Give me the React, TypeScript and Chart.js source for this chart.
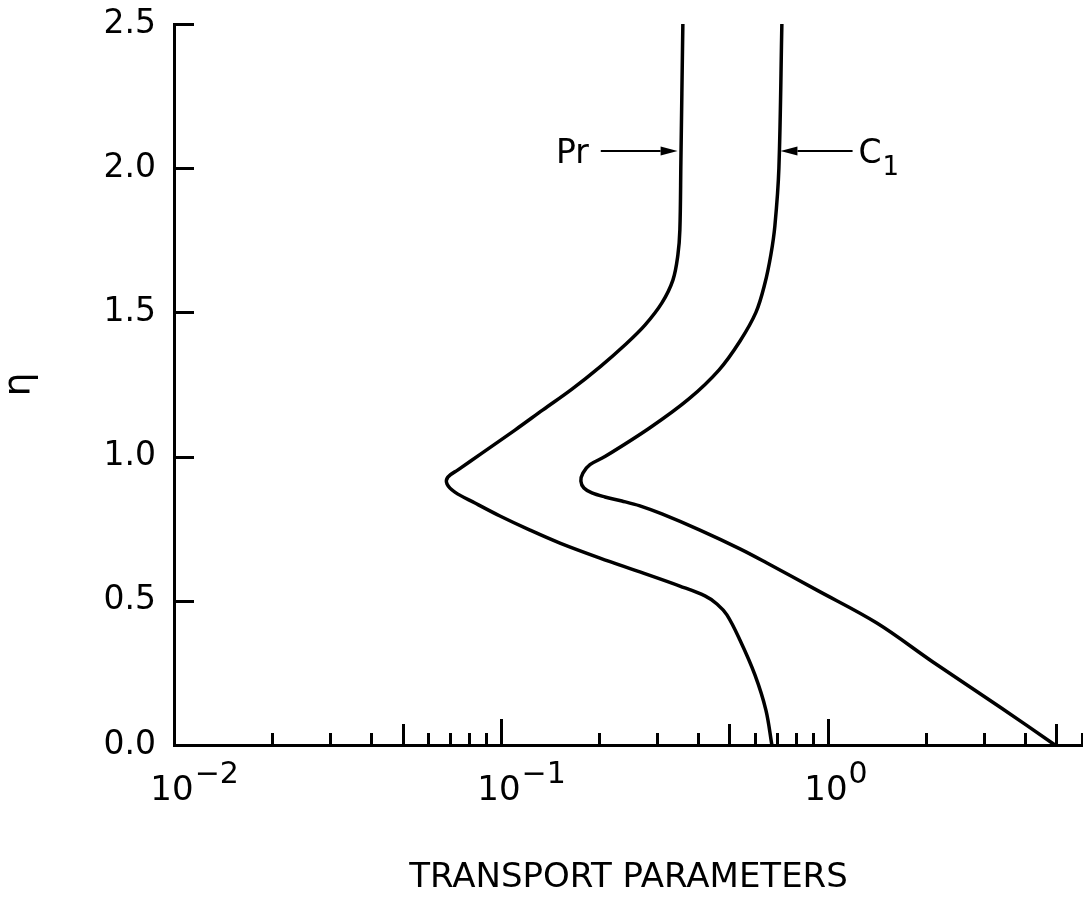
import React, { useEffect, useRef } from "react";
import { Chart, registerables } from "chart.js";

Chart.register(...registerables);

// ---- Data ----
// Prandtl number curve: eta (vertical) vs value (horizontal, log)
const prEta = [2.5, 2.018, 1.786, 1.699, 1.612, 1.533, 1.456, 1.387, 1.314, 1.234, 1.162, 1.092, 1.012, 0.954, 0.929, 0.905, 0.877, 0.839, 0.794, 0.745, 0.7, 0.648, 0.6, 0.551, 0.517, 0.489, 0.451, 0.364, 0.243, 0.121, 0];
const prValues = [0.3601, 0.3551, 0.3526, 0.3477, 0.3357, 0.3107, 0.2757, 0.2394, 0.2022, 0.1649, 0.1344, 0.1104, 0.0875, 0.0739, 0.0688, 0.0684, 0.0723, 0.0833, 0.0993, 0.1227, 0.1515, 0.2009, 0.2661, 0.3526, 0.4207, 0.4578, 0.4911, 0.5382, 0.5982, 0.6463, 0.6741];

// C1 curve
const c1Eta = [2.5, 2.0, 1.8, 1.7, 1.6, 1.5, 1.4, 1.3, 1.2, 1.1, 1.0, 0.972, 0.943, 0.915, 0.891, 0.874, 0.86, 0.846, 0.829, 0.801, 0.745, 0.68, 0.631, 0.537, 0.423, 0.288, 0.132, 0];
const c1Values = [0.7232, 0.7082, 0.6885, 0.6693, 0.6416, 0.6024, 0.5382, 0.4642, 0.3757, 0.2856, 0.208, 0.1872, 0.1781, 0.1756, 0.1794, 0.1898, 0.208, 0.2344, 0.2661, 0.3107, 0.4061, 0.5382, 0.651, 0.9256, 1.4116, 2.095, 3.3574, 4.95];

// Axis ticks
const yTickValues = [0, 0.5, 1.0, 1.5, 2.0, 2.5];
const xDecadeTicks = [0.01, 0.1, 1];
const xDecadeBase = ["10", "10", "10"];
const xDecadeExponents = ["\u22122", "\u22121", "0"];
const xMidTicks = [0.05, 0.5, 5];
const xMinorTicks = [0.02, 0.03, 0.04, 0.06, 0.07, 0.08, 0.09, 0.2, 0.3, 0.4, 0.6, 0.7, 0.8, 0.9, 2, 3, 4, 6];

const X_MIN = 0.01;
const X_MAX = 6.03;
const Y_MIN = 0;
const Y_MAX = 2.5;

const xTitle = "TRANSPORT PARAMETERS";
const yTitle = "\u03B7";

// Annotations (labels with arrows), in data coordinates
const prLabel = "Pr";
const prArrow = { eta: 2.06, from: 0.202, to: 0.347 };
const c1Label = "C";
const c1Sub = "1";
const c1Arrow = { eta: 2.06, from: 1.19, to: 0.716 };

const FONT = '"DejaVu Sans", "Liberation Sans", sans-serif';

const overlayPlugin = {
  id: "overlay",
  afterDraw(chart: any) {
    const { ctx } = chart;
    const xs = chart.scales.x;
    const ys = chart.scales.y;
    const bottom = ys.getPixelForValue(0);
    const left = xs.getPixelForValue(X_MIN);
    ctx.save();
    ctx.strokeStyle = "#000";
    ctx.fillStyle = "#000";
    ctx.lineCap = "butt";
    ctx.lineWidth = 3;

    // X tick marks (inward)
    const drawXTick = (v: number, len: number) => {
      const px = Math.round(xs.getPixelForValue(v)) + 0.5;
      ctx.beginPath();
      ctx.moveTo(px, bottom);
      ctx.lineTo(px, bottom - len);
      ctx.stroke();
    };
    xDecadeTicks.forEach((v) => { if (v > X_MIN) drawXTick(v, 26); });
    xMidTicks.forEach((v) => drawXTick(v, 21));
    xMinorTicks.forEach((v) => drawXTick(v, 12));

    // Y tick marks (inward)
    yTickValues.forEach((v) => {
      if (v === Y_MIN) return;
      const py = Math.round(ys.getPixelForValue(v)) + 0.5;
      ctx.beginPath();
      ctx.moveTo(left, py);
      ctx.lineTo(left + 20, py);
      ctx.stroke();
    });

    // X tick labels: 10 with superscript exponent
    xDecadeTicks.forEach((v, i) => {
      const px = xs.getPixelForValue(v);
      ctx.font = `34px ${FONT}`;
      ctx.textAlign = "left";
      ctx.textBaseline = "alphabetic";
      const wb = ctx.measureText(xDecadeBase[i]).width;
      const bx = px - wb / 2 - 2;
      ctx.fillText(xDecadeBase[i], bx, bottom + 55);
      ctx.font = `30px ${FONT}`;
      ctx.fillText(xDecadeExponents[i], bx + wb + 1, bottom + 38);
    });

    // Arrows
    const drawArrow = (a: { eta: number; from: number; to: number }) => {
      const py = ys.getPixelForValue(a.eta);
      const x0 = xs.getPixelForValue(a.from);
      const x1 = xs.getPixelForValue(a.to);
      const dir = x1 > x0 ? 1 : -1;
      const headLen = 17;
      ctx.lineWidth = 2;
      ctx.beginPath();
      ctx.moveTo(x0, py);
      ctx.lineTo(x1 - dir * headLen, py);
      ctx.stroke();
      ctx.beginPath();
      ctx.moveTo(x1, py);
      ctx.lineTo(x1 - dir * headLen, py - 4.5);
      ctx.lineTo(x1 - dir * headLen, py + 4.5);
      ctx.closePath();
      ctx.fill();
      return { py, x0 };
    };
    const pr = drawArrow(prArrow);
    ctx.font = `33px ${FONT}`;
    ctx.textBaseline = "middle";
    ctx.textAlign = "right";
    ctx.fillText(prLabel, pr.x0 - 12, pr.py + 4);

    const c1 = drawArrow(c1Arrow);
    ctx.textAlign = "left";
    ctx.font = `33px ${FONT}`;
    ctx.fillText(c1Label, c1.x0 + 6, c1.py + 4);
    const cw = ctx.measureText(c1Label).width;
    ctx.font = `26px ${FONT}`;
    ctx.textBaseline = "alphabetic";
    ctx.fillText(c1Sub, c1.x0 + 6 + cw + 1, c1.py + 24);

    ctx.restore();
  },
};

export default function App() {
  const canvasRef = useRef<HTMLCanvasElement | null>(null);

  useEffect(() => {
    if (!canvasRef.current) return;
    const prPoints = prValues.map((v, i) => ({ x: v, y: prEta[i] }));
    const c1Points = c1Values.map((v, i) => ({ x: v, y: c1Eta[i] }));

    const lineStyle = {
      showLine: true,
      borderColor: "#000",
      backgroundColor: "#000",
      borderWidth: 3.5,
      pointRadius: 0,
      tension: 0.35,
      fill: false,
      clip: false,
    };

    const chart = new Chart(canvasRef.current, {
      type: "scatter",
      data: {
        datasets: [
          { label: "Pr", data: prPoints, ...lineStyle },
          { label: "C1", data: c1Points, ...lineStyle },
        ],
      },
      options: {
        responsive: false,
        animation: false,
        devicePixelRatio: 1,
        layout: { padding: { top: 24, left: 0, right: 0, bottom: 0 } },
        plugins: {
          legend: { display: false },
          tooltip: { enabled: false },
        },
        scales: {
          x: {
            type: "logarithmic",
            position: "bottom",
            min: X_MIN,
            max: X_MAX,
            grid: { display: false, drawTicks: false },
            border: { display: true, color: "#000", width: 3 },
            ticks: { display: false },
            title: {
              display: true,
              text: xTitle,
              color: "#000",
              font: { family: FONT, size: 34 },
              padding: { top: 0, bottom: 1 },
            },
            afterFit: (scale: any) => {
              scale.height = 155;
              scale.paddingLeft = 0;
              scale.paddingRight = 0;
            },
          },
          y: {
            type: "linear",
            position: "left",
            min: Y_MIN,
            max: Y_MAX,
            grid: { display: false, drawTicks: false },
            border: { display: true, color: "#000", width: 3 },
            afterBuildTicks: (scale: any) => {
              scale.ticks = yTickValues.map((v) => ({ value: v }));
            },
            ticks: {
              color: "#000",
              padding: 18,
              font: { family: FONT, size: 33 },
              callback: (v: any) => Number(v).toFixed(1),
            },
            title: {
              display: true,
              text: yTitle,
              color: "#000",
              font: { family: FONT, size: 38, lineHeight: 1 },
              padding: { top: 1, bottom: 0 },
            },
            afterFit: (scale: any) => {
              scale.width = 174;
              scale.paddingTop = 0;
              scale.paddingBottom = 0;
            },
          },
        },
      },
      plugins: [overlayPlugin],
    } as any);

    return () => chart.destroy();
  }, []);

  return (
    <div style={{ position: "absolute", left: 0, top: 0, width: 1083, height: 900, background: "#fff" }}>
      <canvas ref={canvasRef} width={1083} height={900} style={{ display: "block" }} />
    </div>
  );
}
